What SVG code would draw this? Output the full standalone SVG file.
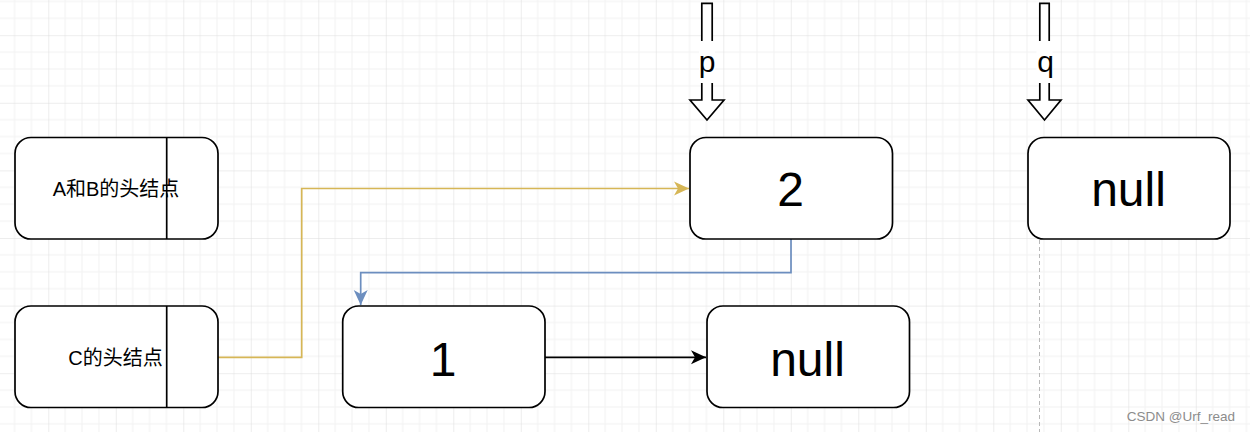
<svg xmlns="http://www.w3.org/2000/svg" width="1250" height="432" viewBox="0 0 1250 432">
<style>
.node{fill:#fff;stroke:#000;stroke-width:1.7}
.div{stroke:#000;stroke-width:1.7}
.lbl{font-family:"Liberation Sans","Noto Sans CJK SC",sans-serif;fill:#000;text-anchor:middle}
.small{font-size:20px}
.big{font-size:48px}
.ptr{font-size:30px}
.conn{fill:none;stroke-width:1.7}
.ptrshape{fill:#fff;stroke:#000;stroke-width:1.7;stroke-linejoin:miter}
</style>
<defs>
<pattern id="grid" patternUnits="userSpaceOnUse" x="48.3" y="35.2" width="67.5" height="67.6">
<rect width="67.5" height="67.6" fill="#fff"/>
<path d="M16.875 0V67.6M33.75 0V67.6M50.625 0V67.6M0 16.9H67.5M0 33.8H67.5M0 50.7H67.5" stroke="#f2f2f2" stroke-width="1"/>
<path d="M0 0V67.6M0 0H67.5" stroke="#dcdcdc" stroke-width="1"/>
</pattern>
<marker id="arrY" markerUnits="userSpaceOnUse" markerWidth="16" markerHeight="16" refX="15" refY="8" orient="auto" viewBox="0 0 16 16">
<path d="M15 8L0 1L4 8L0 15Z" fill="#d6b656"/>
</marker>
<marker id="arrB" markerUnits="userSpaceOnUse" markerWidth="16" markerHeight="16" refX="15" refY="8" orient="auto" viewBox="0 0 16 16">
<path d="M15 8L0 1L4 8L0 15Z" fill="#6c8ebf"/>
</marker>
<marker id="arrK" markerUnits="userSpaceOnUse" markerWidth="16" markerHeight="16" refX="15" refY="8" orient="auto" viewBox="0 0 16 16">
<path d="M15 8L0 1L4 8L0 15Z" fill="#000"/>
</marker>
</defs>
<rect width="1250" height="432" fill="url(#grid)"/>

<g id="connectors">
<path class="conn" d="M218 357.3H301.7V188.5H689" stroke="#d6b656" marker-end="url(#arrY)"/>
<path class="conn" d="M791 239V272.7H360.7V305" stroke="#6c8ebf" marker-end="url(#arrB)"/>
<path class="conn" d="M545 357.3H706" stroke="#000" marker-end="url(#arrK)"/>
</g>

<g id="lifeline">
<line x1="1039.5" y1="240" x2="1039.5" y2="432" stroke="#b8b8b8" stroke-width="1" stroke-dasharray="4 3"/>
</g>

<g id="nodeAB">
<rect class="node" x="15" y="137.5" width="203" height="101.5" rx="16" ry="16"/>
<line class="div" x1="166.7" y1="137.5" x2="166.7" y2="239"/>
<text class="lbl small" x="116" y="195.5">A和B的头结点</text>
</g>

<g id="nodeC">
<rect class="node" x="15" y="306" width="203" height="101.5" rx="16" ry="16"/>
<line class="div" x1="166.7" y1="306" x2="166.7" y2="407.5"/>
<text class="lbl small" x="115.5" y="365">C的头结点</text>
</g>

<g id="node2">
<rect class="node" x="690" y="137.5" width="202.5" height="101.5" rx="16" ry="16"/>
<text class="lbl big" x="790.5" y="205.5">2</text>
</g>

<g id="nodeNullTop">
<rect class="node" x="1028" y="137.5" width="202" height="101.5" rx="16" ry="16"/>
<text class="lbl big" x="1128.5" y="205.5">null</text>
</g>

<g id="node1">
<rect class="node" x="342.7" y="306" width="202.3" height="101.5" rx="16" ry="16"/>
<text class="lbl big" x="443" y="375.5">1</text>
</g>

<g id="nodeNullBottom">
<rect class="node" x="707" y="306" width="202.5" height="101.5" rx="16" ry="16"/>
<text class="lbl big" x="807.5" y="375.5">null</text>
</g>

<g id="pointerP">
<path class="ptrshape" d="M701.8 3.3H712.2V100H724L707 120L690 100H701.8Z"/>
<rect x="699" y="41" width="16" height="42" fill="#fff"/>
<text class="lbl ptr" x="707" y="72">p</text>
</g>

<g id="pointerQ">
<path class="ptrshape" d="M1039.8 3.3H1049.2V100H1061L1044.5 120L1028 100H1039.8Z"/>
<rect x="1036.5" y="41" width="16" height="42" fill="#fff"/>
<text class="lbl ptr" x="1045.5" y="72">q</text>
</g>

<g id="watermark">
<text x="1235" y="421" font-family="Liberation Sans, sans-serif" font-size="13.5" fill="#8c8c8c" text-anchor="end">CSDN @Urf_read</text>
</g>
</svg>
